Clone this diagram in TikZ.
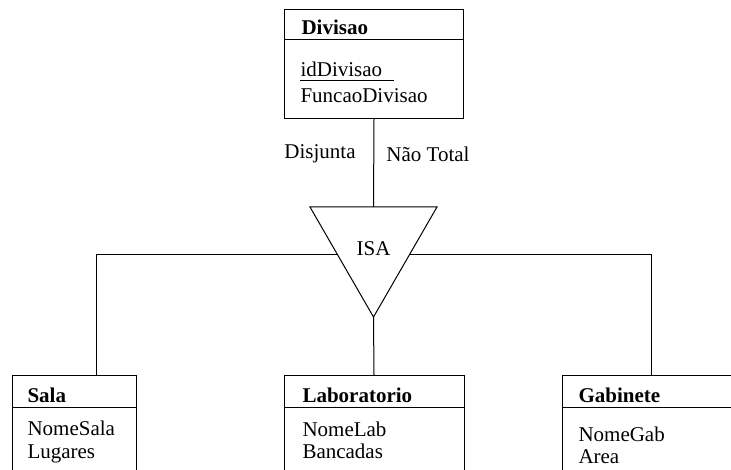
\documentclass[tikz,border=0pt]{standalone}
\usepackage{fontspec}
\setmainfont{Liberation Serif}
\usetikzlibrary{calc}
\begin{document}
\begin{tikzpicture}[x=1pt,y=-1pt, line width=1pt,
  txt/.style={font=\fontsize{21}{24}\selectfont, inner sep=0pt, anchor=base west},
  ttl/.style={font=\fontsize{21}{24}\selectfont\bfseries, inner sep=0pt, anchor=base west},
  lbl/.style={font=\fontsize{21}{24}\selectfont, inner sep=0pt},
  ent/.style={draw, rectangle, inner sep=0pt, anchor=north west, line width=1pt}]
\useasboundingbox (0,0) rectangle (731,470);
\clip (0,0) rectangle (731,470);

% Divisao
\node[ent, minimum width=179pt, minimum height=109pt] (div) at (284,9) {};
\draw ([yshift=-31pt]div.north west) -- ([yshift=-31pt]div.north east);
\node[ttl] (divt) at (301,35) {Divisao};
\node[txt] (divid) at (300,77) {idDivisao};
\draw (300,81) -- (394,81);
\node[txt] (divf) at (300,103) {FuncaoDivisao};

% ISA triangle
\coordinate (tl) at (310,207);
\coordinate (tr) at (437,207);
\coordinate (tb) at (373.5,317);
\coordinate (tt) at (373.5,207);
\draw (tl) -- (tr) -- (tb) -- cycle;
\node[lbl] (isa) at (373.5,249) {ISA};
\coordinate (isaL) at ($(tl)!0.436!(tb)$);
\coordinate (isaR) at ($(tr)!0.436!(tb)$);

\node[lbl] (dis) at (320,154) {Disjunta};
\node[lbl] (nt) at (428,154) {Não Total};

% Sala
\node[ent, minimum width=124pt, minimum height=120pt] (sala) at (12,375) {};
\draw ([yshift=-32pt]sala.north west) -- ([yshift=-32pt]sala.north east);
\node[ttl] (salat) at (27,402) {Sala};
\node[txt] (sala1) at (27,435) {NomeSala};
\node[txt] (sala2) at (27,458) {Lugares};

% Laboratorio
\node[ent, minimum width=180pt, minimum height=120pt] (lab) at (283.5,375) {};
\draw ([yshift=-32pt]lab.north west) -- ([yshift=-32pt]lab.north east);
\node[ttl] (labt) at (302,402) {Laboratorio};
\node[txt] (lab1) at (302,436) {NomeLab};
\node[txt] (lab2) at (302,458) {Bancadas};

% Gabinete
\node[ent, minimum width=200pt, minimum height=120pt] (gab) at (562,375) {};
\draw ([yshift=-32pt]gab.north west) -- ([yshift=-32pt]gab.north east);
\node[ttl] (gabt) at (578,402) {Gabinete};
\node[txt] (gab1) at (578,441) {NomeGab};
\node[txt] (gab2) at (578,463) {Area};

% connectors
\draw (div.south) -- (tt);
\draw (isaL) -| ([xshift=84pt]sala.north west);
\draw (isaR) -| ([xshift=89pt]gab.north west);
\draw (tb) -- (lab.north);
\end{tikzpicture}
\end{document}
